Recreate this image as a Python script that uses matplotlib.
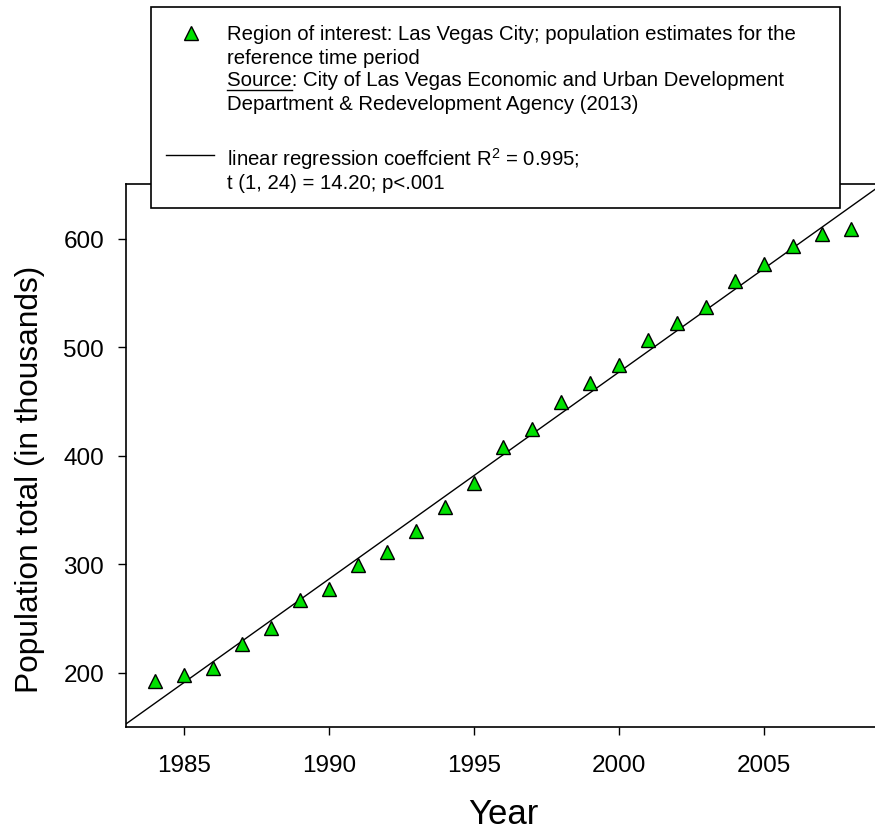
import numpy as np
import matplotlib
matplotlib.use('Agg')
import matplotlib.pyplot as plt
from matplotlib.lines import Line2D
from matplotlib.patches import Rectangle

# population of Las Vegas city, thousands
years = [1984, 1985, 1986, 1987, 1988, 1989, 1990, 1991, 1992, 1993, 1994, 1995, 1996,
         1997, 1998, 1999, 2000, 2001, 2002, 2003, 2004, 2005, 2006, 2007, 2008]
population = [193, 198, 205, 227, 241, 267, 277, 299, 311, 331, 353, 375, 408,
              425, 450, 467, 484, 507, 522, 537, 561, 577, 593, 604, 609]
x_ticks = [1985, 1990, 1995, 2000, 2005]
y_ticks = [200, 300, 400, 500, 600]
x_lim = [1983, 2009]
y_lim = [150, 650]

legend_points = ["Region of interest: Las Vegas City; population estimates for the",
                 "reference time period",
                 "Source: City of Las Vegas Economic and Urban Development",
                 "Department & Redevelopment Agency (2013)"]
legend_fit = ["linear regression coeffcient R$^2$ = 0.995;",
              "t (1, 24) = 14.20; p<.001"]

plt.rcParams['font.family'] = ['Liberation Sans', 'DejaVu Sans']
plt.rcParams['mathtext.fontset'] = 'custom'
plt.rcParams['mathtext.rm'] = 'Liberation Sans'

W, H = 875, 837
fig = plt.figure(figsize=(W / 100, H / 100), dpi=100)


def fx(px):
    return px / W


def fy(py):
    return 1 - py / H


ax = fig.add_axes([fx(125.7), fy(728.3), 754.5 / W, 543 / H])

ax.plot(years, population, linestyle='none', marker='^', markersize=10,
        markerfacecolor='#00e000', markeredgecolor='black', markeredgewidth=1.0, zorder=3)

# regression line over the whole x range
slope, intercept = np.polyfit(years, population, 1)
xs = np.array(x_lim, dtype=float)
ax.plot(xs, slope * xs + intercept, color='black', linewidth=1.0, zorder=2)

ax.set_xlim(x_lim)
ax.set_ylim(y_lim)
ax.set_xticks(x_ticks)
ax.set_yticks(y_ticks)
for s in ['left', 'bottom', 'top']:
    ax.spines[s].set_linewidth(1.2)
ax.spines['right'].set_visible(False)
ax.tick_params(axis='both', direction='out', length=6, width=1.0, labelsize=17.5)
ax.tick_params(axis='x', pad=13)
ax.tick_params(axis='y', pad=9.5)

ax.set_xlabel('Year', fontsize=25, va='center')
ax.xaxis.set_label_coords(0.5, (728.3 - 815) / 543)
ax.set_ylabel('Population total (in thousands)', fontsize=22.8, va='center')
ax.yaxis.set_label_coords((30 - 125.7) / 754.5, (728.3 - 479) / 543)

# legend box drawn by hand (needs underline on "Source")
box = Rectangle((fx(151), fy(209)), (840 - 151) / W, (209 - 7.5) / H, transform=fig.transFigure,
                facecolor='white', edgecolor='black', linewidth=1.2, zorder=5)
fig.patches.append(box)
fig.lines.append(Line2D([fx(191)], [fy(34)], transform=fig.transFigure, linestyle='none',
                        marker='^', markersize=10, markerfacecolor='#00e000',
                        markeredgecolor='black', markeredgewidth=1.0, zorder=6))
fig.lines.append(Line2D([fx(166)], [fy(156)], transform=fig.transFigure, zorder=6))
fig.lines[-1].set_data([fx(166), fx(214)], [fy(156), fy(156)])
fig.lines[-1].set_color('black')
fig.lines[-1].set_linewidth(1.0)

leg_size = 14.7
text_x = fx(227)
for i, line in enumerate(legend_points):
    fig.text(text_x, fy(40.5 + 23 * i), line, fontsize=leg_size, va='baseline', ha='left', zorder=7)
for i, line in enumerate(legend_fit):
    fig.text(text_x, fy(166 + 23 * i), line, fontsize=leg_size, va='baseline', ha='left', zorder=7)

# underline the word Source
renderer = fig.canvas.get_renderer()
tmp = fig.text(text_x, fy(86.5), 'Source', fontsize=leg_size, va='baseline', ha='left', alpha=0)
bb = tmp.get_window_extent(renderer)
tmp.remove()
fig.lines.append(Line2D([text_x, text_x + bb.width / W], [fy(90.5), fy(90.5)], transform=fig.transFigure,
                        color='black', linewidth=1.0, zorder=7))

fig.savefig('out.png', dpi=100)
